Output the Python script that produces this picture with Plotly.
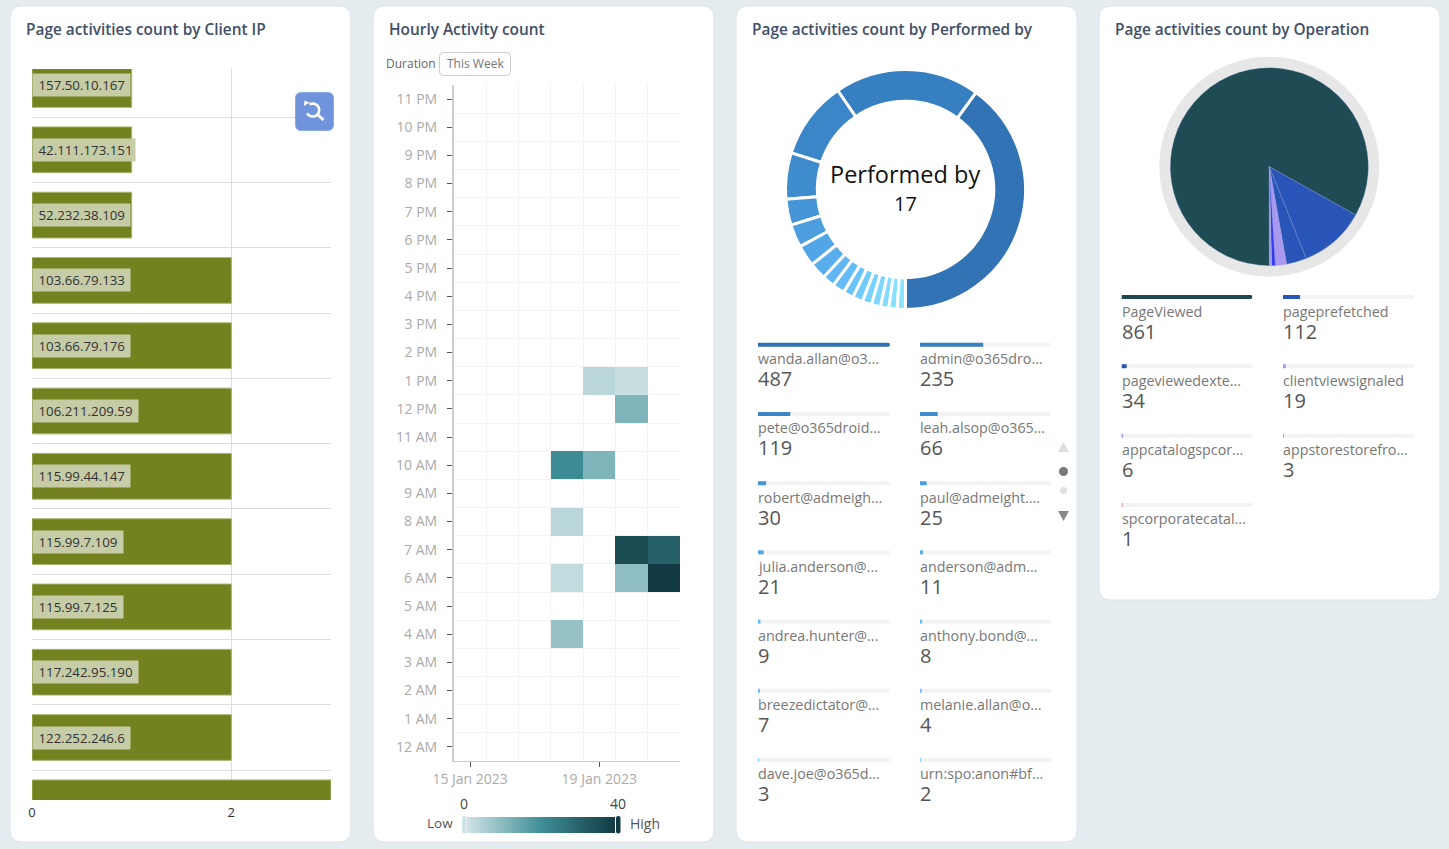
import math
import plotly.graph_objects as go

W = 1449
H = 849

# client ip panel
ip_labels = ["157.50.10.167", "42.111.173.151", "52.232.38.109", "103.66.79.133", "103.66.79.176", "106.211.209.59",
             "115.99.44.147", "115.99.7.109", "115.99.7.125", "117.242.95.190", "122.252.246.6", ""]
ip_counts = [1, 1, 1, 2, 2, 2, 2, 2, 2, 2, 2, 3]

# hourly heatmap
heat_hours = ["12 AM", "1 AM", "2 AM", "3 AM", "4 AM", "5 AM", "6 AM", "7 AM", "8 AM", "9 AM", "10 AM", "11 AM",
              "12 PM", "1 PM", "2 PM", "3 PM", "4 PM", "5 PM", "6 PM", "7 PM", "8 PM", "9 PM", "10 PM", "11 PM"]
heat_dates = ["2023-01-15", "2023-01-16", "2023-01-17", "2023-01-18", "2023-01-19", "2023-01-20", "2023-01-21"]
heat_cells = [("1 PM", "2023-01-19", 3), ("1 PM", "2023-01-20", 1), ("12 PM", "2023-01-20", 11),
              ("10 AM", "2023-01-18", 21), ("10 AM", "2023-01-19", 11), ("8 AM", "2023-01-18", 3),
              ("7 AM", "2023-01-20", 36), ("7 AM", "2023-01-21", 31), ("6 AM", "2023-01-18", 2),
              ("6 AM", "2023-01-20", 9), ("6 AM", "2023-01-21", 40), ("4 AM", "2023-01-18", 8)]

# performed by: the ring has a minimum slice angle so its shares are read off the ring, not the counts
user_names = ["wanda.allan@o3...", "admin@o365dro...", "pete@o365droid...", "leah.alsop@o365...", "robert@admeigh...",
              "paul@admeight....", "julia.anderson@...", "anderson@adm...", "andrea.hunter@...", "anthony.bond@...",
              "breezedictator@...", "melanie.allan@o...", "dave.joe@o365d...", "urn:spo:anon#bf..."]
user_counts = [487, 235, 119, 66, 30, 25, 21, 11, 9, 8, 7, 4, 3, 2]
ring_shares = [144, 70.4, 37.8, 22.5, 12.6, 11.1, 10.4, 8.2, 6, 6, 5, 5, 4.5, 4.5, 4, 4, 4]
ring_colors = ["#3173b5", "#367fc1", "#3a86c8", "#3e8cce", "#4595d8", "#4c9edf", "#52a6e8", "#58aeed", "#5fb6f3",
               "#64bcf8", "#6ac4fc", "#70ccff", "#76d2ff", "#7cd8ff", "#82dcff", "#88e0ff", "#8de4ff"]

# operation
op_names = ["PageViewed", "pageprefetched", "pageviewedexte...", "clientviewsignaled", "appcatalogspcor...",
            "appstorestorefro...", "spcorporatecatal..."]
op_counts = [861, 112, 34, 19, 6, 3, 1]
op_colors = ["#1f4b54", "#2a55b8", "#2a55b8", "#a898f0", "#3838f0", "#a8a0e0", "#d87090"]

FONT = "Open Sans"


def px(x):
    return x / W


def py(y):
    return 1 - y / H


def rounded(x0, y0, x1, y1, r):
    return (f"M {px(x0 + r)} {py(y0)} L {px(x1 - r)} {py(y0)} Q {px(x1)} {py(y0)} {px(x1)} {py(y0 + r)} "
            f"L {px(x1)} {py(y1 - r)} Q {px(x1)} {py(y1)} {px(x1 - r)} {py(y1)} "
            f"L {px(x0 + r)} {py(y1)} Q {px(x0)} {py(y1)} {px(x0)} {py(y1 - r)} "
            f"L {px(x0)} {py(y0 + r)} Q {px(x0)} {py(y0)} {px(x0 + r)} {py(y0)} Z")


def poly(points, close=True):
    s = "M " + " L ".join(f"{px(a)} {py(b)}" for a, b in points)
    return s + " Z" if close else s


def circle(cx, cy, r, color):
    return dict(type="circle", xref="paper", yref="paper", x0=px(cx - r), x1=px(cx + r), y0=py(cy + r), y1=py(cy - r),
                fillcolor=color, line=dict(width=0), layer="below")


def text(x, y, s, size, color, anchor="left", weight=None):
    return dict(xref="paper", yref="paper", x=px(x), y=py(y), text=s, showarrow=False, xanchor=anchor, yanchor="middle",
                font=dict(family=FONT, size=size, color=color, weight=weight))


fig = go.Figure()
shapes = []
notes = []

# cards
for x0, y1 in [(10, 842), (373, 842), (736, 842), (1099, 600)]:
    shapes.append(dict(type="path", path=rounded(x0, 6, x0 + 341, y1, 12), xref="paper", yref="paper",
                       fillcolor="white", line=dict(color="#dde4e8", width=1), layer="below"))

for x, s in [(26, "Page activities count by Client IP"), (389, "Hourly Activity count"),
             (752, "Page activities count by Performed by"), (1115, "Page activities count by Operation")]:
    notes.append(text(x - 2, 29, s, 15.4, "#414f69", weight=600))

# bar panel
ip_rows = list(range(len(ip_counts)))
fig.add_trace(go.Bar(x=ip_counts, y=ip_rows, orientation="h", width=0.7, xaxis="x", yaxis="y", hoverinfo="skip",
                     marker=dict(color="#73811f", line=dict(color="#a9b36f", width=1))))
for i, ip in enumerate(ip_labels):
    if ip:
        # the longest label fills its bar, no room for the right padding there
        tail = "" if len(ip) >= 14 and ip_counts[i] == 1 else "&nbsp;"
        notes.append(dict(xref="x", yref="y", x=0, y=i, text=f"&nbsp;{ip}{tail}", showarrow=False, xanchor="left",
                          yanchor="middle", bgcolor="#c6cca6", borderpad=2,
                          font=dict(family=FONT, size=13.3, color="#333333")))

# heatmap
z = [[None for _ in heat_dates] for _ in heat_hours]
for hour, day, val in heat_cells:
    z[heat_hours.index(hour)][heat_dates.index(day)] = val
hour_rows = list(range(len(heat_hours)))
fig.add_trace(go.Heatmap(x=heat_dates, y=hour_rows, z=z, zmin=0, zmax=40, xaxis="x2", yaxis="y2", hoverinfo="skip",
                         colorscale=[[0, "#cfe3e6"], [0.5, "#3f8f98"], [1, "#123a42"]],
                         colorbar=dict(orientation="h", x=px(467), xanchor="left", y=py(832.7), yanchor="bottom",
                                       lenmode="pixels", len=148, thickness=16, xpad=0, ypad=0, outlinewidth=0,
                                       ticks="", showticklabels=False)))

notes.append(text(384, 64, "Duration", 12, "#666666"))
shapes.append(dict(type="path", path=rounded(439.5, 52.5, 510.5, 75.5, 4), xref="paper", yref="paper",
                   fillcolor="white", line=dict(color="#cccccc", width=1), layer="below"))
notes.append(text(475, 64, "This Week", 12, "#777777", anchor="center"))
notes.append(text(464, 803, "0", 14, "#444444", anchor="center"))
notes.append(text(618, 803, "40", 14, "#444444", anchor="center"))
notes.append(text(455, 823, "Low", 13.5, "#555555", anchor="right"))
notes.append(text(628, 823, "High", 14, "#555555"))
shapes.append(dict(type="path", path=rounded(462, 816, 466.5, 833.5, 2), xref="paper", yref="paper",
                   fillcolor="#cfe3e6", line=dict(width=0)))
shapes.append(dict(type="path", path=rounded(616, 816, 620.5, 833.5, 2), xref="paper", yref="paper",
                   fillcolor="#123a42", line=dict(width=0)))

# donut
fig.add_trace(go.Pie(values=ring_shares, hole=0.735, sort=False, direction="counterclockwise", rotation=36,
                     textinfo="none", hoverinfo="skip", showlegend=False,
                     domain=dict(x=[px(785.5), px(1025.5)], y=[py(309.5), py(69.5)]),
                     marker=dict(colors=ring_colors, line=dict(color="white", width=3))))
notes.append(text(905.5, 173.5, "Performed by", 23.5, "#111111", anchor="center"))
notes.append(text(905.5, 203, "17", 20, "#111111", anchor="center"))

# operation pie with its grey ring
shapes.append(circle(1269.3, 166.7, 110, "#e7e7e7"))
fig.add_trace(go.Pie(values=op_counts, sort=False, direction="clockwise", rotation=180, textinfo="none",
                     hoverinfo="skip", showlegend=False, domain=dict(x=[px(1170.3), px(1368.3)], y=[py(265.7), py(67.7)]),
                     marker=dict(colors=op_colors, line=dict(color="#8fa0d8", width=0.3))))


def legend_bars(names, counts, colors, xa, ya):
    # progress bars for the two legend columns, odd items on the first axis and even ones on the second
    for col, xname in enumerate(xa):
        items = list(range(col, len(counts), 2))
        rows = [i // 2 for i in items]
        fig.add_trace(go.Bar(x=[max(counts)] * len(rows), y=rows, orientation="h", width=0.058, xaxis=xname, yaxis=ya,
                             hoverinfo="skip", marker=dict(color="#f3f3f3", cornerradius=2, line=dict(width=0))))
        fig.add_trace(go.Bar(x=[counts[i] for i in items], y=rows, orientation="h", width=0.058, xaxis=xname, yaxis=ya,
                             hoverinfo="skip", marker=dict(color=[colors[i] for i in items], cornerradius=2,
                                                           line=dict(width=0))))
        for i, r in zip(items, rows):
            notes.append(dict(xref=xname, yref=ya, x=0, y=r, text=names[i], showarrow=False, xanchor="left",
                              yanchor="middle", xshift=-1, yshift=-14, borderpad=0,
                              font=dict(family=FONT, size=14.3, color="#777777")))
            notes.append(dict(xref=xname, yref=ya, x=0, y=r, text=str(counts[i]), showarrow=False, xanchor="left",
                              yanchor="middle", xshift=-1, yshift=-34, borderpad=0,
                              font=dict(family=FONT, size=20, color="#555555")))


legend_bars(user_names, user_counts, ring_colors, ["x3", "x4"], "y3")
legend_bars(op_names, op_counts, op_colors, ["x5", "x6"], "y4")

# pager next to the user legend
shapes.append(dict(type="path", path=poly([(1063.5, 442), (1069, 452), (1058, 452)]), xref="paper", yref="paper",
                   fillcolor="#dddddd", line=dict(width=0)))
shapes.append(circle(1063.5, 471.5, 4.5, "#777777"))
shapes.append(circle(1063.5, 490.5, 3.5, "#dde1e5"))
shapes.append(dict(type="path", path=poly([(1058, 511), (1069, 511), (1063.5, 521)]), xref="paper", yref="paper",
                   fillcolor="#888888", line=dict(width=0)))

# zoom reset button
shapes.append(dict(type="path", path=rounded(295.5, 92.5, 333.5, 130.5, 6), xref="paper", yref="paper",
                   fillcolor="#7094dc", line=dict(color="#8aa8e4", width=1)))
lens = [(312.7 + 6.5 * math.cos(math.radians(a)), 110 + 6.5 * math.sin(math.radians(a))) for a in range(-120, 165, 15)]
shapes.append(dict(type="path", path=poly(lens, close=False), xref="paper", yref="paper",
                   line=dict(color="white", width=2.5)))
shapes.append(dict(type="path", path=poly([(318, 115), (323.5, 120)], close=False), xref="paper", yref="paper",
                   line=dict(color="white", width=3)))
shapes.append(dict(type="path", path=poly([(304, 106), (309.5, 102.5), (304.5, 100.5)]), xref="paper", yref="paper",
                   fillcolor="white", line=dict(width=0)))

hidden = dict(visible=False, fixedrange=True)

fig.update_layout(
    width=W, height=H, margin=dict(l=0, r=0, t=0, b=0, autoexpand=False), paper_bgcolor="#e4ecf0",
    plot_bgcolor="rgba(0,0,0,0)", showlegend=False, barmode="overlay", shapes=shapes, annotations=notes,
    xaxis=dict(domain=[px(32), px(331)], range=[0, 3], tickvals=[0, 2], gridcolor="#dddddd", zeroline=False,
               showline=False, ticklabelstandoff=3, tickfont=dict(family=FONT, size=13, color="#333333"), anchor="y"),
    yaxis=dict(domain=[py(800), py(69)], range=[(800 - 84.5) / 65.3, (69 - 84.5) / 65.3], tick0=-0.5, dtick=1,
               showticklabels=False, gridcolor="#dddddd", zeroline=False, anchor="x"),
    xaxis2=dict(domain=[px(454), px(680)], type="date", range=["2023-01-14 12:00", "2023-01-21 12:00"],
                tickvals=["2023-01-15", "2023-01-19"], tickformat="%d %b %Y", ticks="outside", ticklen=5,
                tickcolor="#555555", showgrid=False, showline=True, linecolor="#cccccc", linewidth=1,
                tickfont=dict(family=FONT, size=14, color="#aaaaaa"), anchor="y2",
                minor=dict(showgrid=True, gridcolor="#f3f3f3", tick0="2023-01-15 12:00", dtick=86400000, ticks="")),
    yaxis2=dict(domain=[py(761), py(85)], range=[-0.5, 23.5], tickvals=hour_rows, ticktext=heat_hours, ticks="outside",
                ticklen=5, tickcolor="#555555", showgrid=False, zeroline=False, showline=True, linecolor="#cccccc",
                linewidth=2, ticklabelstandoff=7, tickfont=dict(family=FONT, size=14, color="#aaaaaa"), anchor="x2",
                minor=dict(showgrid=True, gridcolor="#f3f3f3", tick0=-0.5, dtick=1, ticks="")),
    xaxis3=dict(domain=[px(758), px(890)], range=[0, max(user_counts)], anchor="y3", **hidden),
    xaxis4=dict(domain=[px(920), px(1051)], range=[0, max(user_counts)], anchor="y3", **hidden),
    yaxis3=dict(domain=[py(794.6), py(310.1)], range=[6.5, -0.5], anchor="x3", **hidden),
    xaxis5=dict(domain=[px(1121.5), px(1252.5)], range=[0, max(op_counts)], anchor="y4", **hidden),
    xaxis6=dict(domain=[px(1283), px(1414)], range=[0, max(op_counts)], anchor="y4", **hidden),
    yaxis4=dict(domain=[py(539.6), py(262.4)], range=[3.5, -0.5], anchor="x5", **hidden),
)

fig.write_html("out.html", config=dict(displayModeBar=False),
               post_script="document.body.style.margin='0';document.documentElement.style.overflow='hidden';")
